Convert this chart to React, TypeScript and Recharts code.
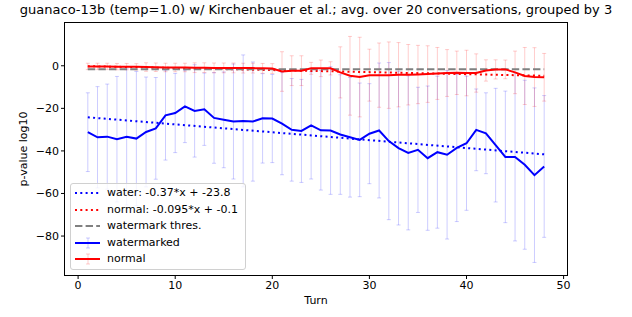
import { LineChart, Line, XAxis, YAxis, ErrorBar } from "recharts"

const turns = [
  1, 2, 3, 4, 5, 6, 7, 8, 9, 10, 11, 12, 13, 14, 15, 16, 17, 18, 19, 20, 21, 22, 23, 24,
  25, 26, 27, 28, 29, 30, 31, 32, 33, 34, 35, 36, 37, 38, 39, 40, 41, 42, 43, 44, 45, 46, 47, 48,
]

const waterMean = [
  -31.2, -33.6, -33.3, -34.5, -33.4, -34.2, -31.1, -29.4, -23.3, -22.2, -19.1, -21.2,
  -20.4, -24.5, -25.4, -26.2, -25.9, -26.2, -24.7, -24.8, -27.2, -30.1, -30.6, -28.0,
  -30.3, -30.4, -32.3, -33.6, -34.8, -31.9, -30.4, -35.4, -38.7, -40.9, -39.5, -43.4,
  -40.6, -41.8, -38.6, -36.4, -30.1, -31.7, -37.3, -42.8, -42.8, -46.5, -51.4, -47.3,
]

const waterErr = [
  18.5, 23.8, 24.7, 29.5, 32, 31.5, 25.8, 23.9, 21, 18.6, 17, 21.7,
  17, 21.3, 22.5, 27, 31, 28, 21, 20.7, 24, 24.1, 24.2, 25.2,
  28.1, 30, 28.1, 28.1, 26.7, 23.5, 31.7, 36.9, 36.1, 36.2, 29.4, 33.9,
  35.7, 39.6, 34.6, 31.5, 19.2, 19, 26.7, 30.9, 39.5, 39.7, 41, 33.3,
]

const normalMean = [
  -0.3, -0.3, -0.3, -0.4, -0.4, -0.5, -0.6, -0.7, -0.8, -0.8, -0.8, -0.9,
  -0.9, -1.0, -1.0, -1.0, -1.1, -1.1, -1.2, -1.3, -2.7, -2.3, -2.3, -1.2,
  -1.2, -1.2, -3.1, -4.7, -5.3, -4.4, -4.4, -4.4, -4.2, -4.2, -4.1, -3.9,
  -3.6, -3.4, -3.3, -3.4, -3.4, -2.2, -1.7, -1.7, -3.1, -4.8, -5.3, -5.4,
]

const normalErr = [
  1.5, 1.5, 1.5, 1.5, 1.5, 1.5, 2, 2, 2, 2, 2, 2.3,
  2.3, 2.3, 2.3, 2.3, 2.3, 2.3, 2.3, 2.3, 9.3, 7, 7, 2.8,
  3.9, 3.1, 12, 18.5, 18.7, 12.2, 15.1, 15.6, 15.1, 14.2, 13.7, 13.3,
  12.2, 11, 10.2, 10.7, 9, 5, 4.5, 4.4, 10, 13.4, 13.8, 11.2,
]

// fitted lines and threshold, endpoints at first/last turn
const fitTurns = [1, 48]
const waterFit = [-24.2, -41.6]
const normalFit = [-0.2, -4.7]
const thresValue = [-1.6, -1.6]

const xTicks = [0, 10, 20, 30, 40, 50]
const yTicks = [-80, -60, -40, -20, 0]

const rows = turns.map((t, i) => ({
  turn: t,
  water: waterMean[i],
  waterErr: waterErr[i],
  normal: normalMean[i],
  normalErr: normalErr[i],
}))

const fitRows = fitTurns.map((t, i) => ({
  turn: t,
  waterFit: waterFit[i],
  normalFit: normalFit[i],
  thres: thresValue[i],
}))

const FONT = "DejaVu Sans, sans-serif"
const X_DOMAIN = [-1.35, 50.35]
const Y_DOMAIN = [-98.3, 20.1]

const minus = (v: number) => String(v).replace("-", "\u2212")

const legendItems = [
  { label: "water: -0.37*x + -23.8", color: "blue", dash: "2 3.3", err: false },
  { label: "normal: -0.095*x + -0.1", color: "red", dash: "2 3.3", err: false },
  { label: "watermark thres.", color: "gray", dash: "7.4 3.2", err: false },
  { label: "watermarked", color: "blue", dash: undefined, err: true },
  { label: "normal", color: "red", dash: undefined, err: true },
]

function LegendBox() {
  return (
    <div
      style={{
        position: "absolute",
        left: 70,
        top: 183,
        width: 174,
        height: 85,
        border: "1px solid #d0d0d0",
        borderRadius: 3,
        background: "rgba(255,255,255,0.8)",
        fontFamily: FONT,
        fontSize: 11,
        zIndex: 2,
      }}
    >
      {legendItems.map((it, i) => (
        <div
          key={it.label}
          style={{ position: "absolute", left: 0, top: 1 + i * 16.6, height: 16, width: 174 }}
        >
          <svg width={30} height={16} style={{ position: "absolute", left: 2, top: 0 }}>
            {it.err && (
              <g stroke={it.color === "blue" ? "rgba(0,0,255,0.2)" : "rgba(255,0,0,0.2)"} strokeWidth={1}>
                <line x1={15} x2={15} y1={3} y2={13} />
                <line x1={13} x2={17} y1={3} y2={3} />
                <line x1={13} x2={17} y1={13} y2={13} />
              </g>
            )}
            <line x1={2} x2={27} y1={8} y2={8} stroke={it.color} strokeWidth={2} strokeDasharray={it.dash} />
          </svg>
          <span style={{ position: "absolute", left: 36, top: 1, lineHeight: "14px", whiteSpace: "nowrap" }}>
            {it.label}
          </span>
        </div>
      ))}
    </div>
  )
}

export default function App() {
  return (
    <div style={{ position: "absolute", left: 0, top: 0, width: 632, height: 317, background: "#fff" }}>
      <div
        style={{
          position: "absolute",
          left: 0,
          top: 2,
          width: 632,
          textAlign: "center",
          fontFamily: FONT,
          fontSize: 13,
          whiteSpace: "nowrap",
        }}
      >
        guanaco-13b (temp=1.0) w/ Kirchenbauer et al.; avg. over 20 conversations, grouped by 3
      </div>
      <div
        style={{
          position: "absolute",
          left: 23,
          top: 149,
          transform: "translate(-50%, -50%) rotate(-90deg)",
          fontFamily: FONT,
          fontSize: 11,
          whiteSpace: "nowrap",
        }}
      >
        p-value log10
      </div>
      <div
        style={{
          position: "absolute",
          left: 316,
          top: 294,
          transform: "translateX(-50%)",
          fontFamily: FONT,
          fontSize: 11,
        }}
      >
        Turn
      </div>
      <LineChart
        width={632}
        height={317}
        data={rows}
        margin={{ top: 23, right: 65, bottom: 0, left: 0 }}
        style={{ position: "absolute", left: 0, top: 0 }}
      >
        <XAxis
          dataKey="turn"
          type="number"
          domain={X_DOMAIN}
          ticks={xTicks}
          allowDataOverflow
          height={42}
          tickSize={4}
          axisLine={false}
          tickLine={{ stroke: "#000" }}
          tick={{ fill: "#000", fontSize: 11, fontFamily: FONT }}
        />
        <YAxis
          type="number"
          domain={Y_DOMAIN}
          ticks={yTicks}
          allowDataOverflow
          width={65}
          tickSize={4}
          axisLine={false}
          tickFormatter={minus}
          tickLine={{ stroke: "#000" }}
          tick={{ fill: "#000", fontSize: 11, fontFamily: FONT }}
        />
        <Line dataKey="water" stroke="none" dot={false} isAnimationActive={false}>
          <ErrorBar dataKey="waterErr" direction="y" width={2} stroke="rgba(0,0,255,0.2)" strokeWidth={1} />
        </Line>
        <Line dataKey="normal" stroke="none" dot={false} isAnimationActive={false}>
          <ErrorBar dataKey="normalErr" direction="y" width={2} stroke="rgba(255,0,0,0.2)" strokeWidth={1} />
        </Line>
        <Line
          data={fitRows}
          dataKey="waterFit"
          stroke="blue"
          strokeWidth={2}
          strokeDasharray="2 3.3"
          dot={false}
          isAnimationActive={false}
        />
        <Line
          data={fitRows}
          dataKey="normalFit"
          stroke="red"
          strokeWidth={2}
          strokeDasharray="2 3.3"
          dot={false}
          isAnimationActive={false}
        />
        <Line
          data={fitRows}
          dataKey="thres"
          stroke="gray"
          strokeWidth={2}
          strokeDasharray="7.4 3.2"
          dot={false}
          isAnimationActive={false}
        />
        <Line dataKey="water" stroke="blue" strokeWidth={2} dot={false} isAnimationActive={false} />
        <Line dataKey="normal" stroke="red" strokeWidth={2} dot={false} isAnimationActive={false} />
      </LineChart>
      {/* plot frame */}
      <div
        style={{
          position: "absolute",
          left: 64,
          top: 22,
          width: 504,
          height: 254,
          boxSizing: "border-box",
          border: "1px solid #000",
          pointerEvents: "none",
        }}
      />
      <LegendBox />
    </div>
  )
}
